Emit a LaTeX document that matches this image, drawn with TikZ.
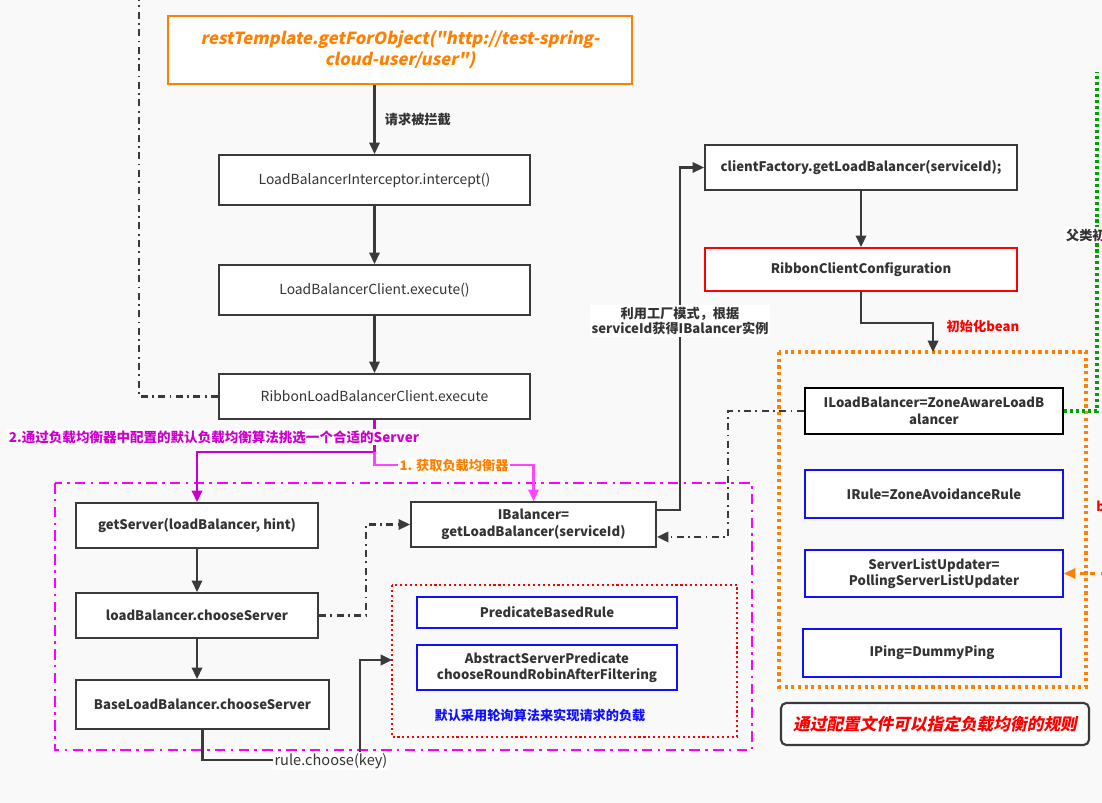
\documentclass[tikz,border=0pt]{standalone}
\usepackage{fontspec}
\setmainfont{Noto Sans CJK SC}
\newfontfamily\slantfont{Noto Sans CJK SC}[FakeSlant=0.2]
\usetikzlibrary{arrows.meta}
\definecolor{bg}{HTML}{F9F9F9}
\definecolor{boxgray}{HTML}{3A3A3A}
\definecolor{txtgray}{HTML}{333333}
\definecolor{orng}{HTML}{FF8000}
\definecolor{mag}{HTML}{FF00FF}
\definecolor{magdark}{HTML}{CC00CC}
\definecolor{pinkl}{HTML}{FF44FF}
\definecolor{blu}{HTML}{1010FF}
\definecolor{rd}{HTML}{FF0000}
\definecolor{grn}{HTML}{00A000}

\begin{document}
\begin{tikzpicture}[x=0.02cm,y=-0.02cm,
	box/.style={draw=boxgray, fill=white, line width=1.2pt, inner sep=0pt, text=txtgray, align=center, font=\fontsize{7.5}{9.5}\selectfont\bfseries},
	plainbox/.style={box, font=\fontsize{7.9}{9.5}\selectfont},
	bluebox/.style={box, draw=blu},
	arr/.style={draw=boxgray, line width=1.2pt, -{Triangle[length=6.5pt,width=6pt]}},
	dashdot/.style={draw=boxgray, line width=1.2pt, dash pattern=on 4pt off 2.5pt on 1pt off 2.5pt},
	lbl/.style={fill=white, inner sep=1pt, align=center, text=txtgray, font=\fontsize{7.5}{9}\selectfont\bfseries}]
	% Parameters
	\def\px{0.02cm}
	
	%background
	\fill[bg] (0,0) rectangle (1102,803);
	\useasboundingbox (0,0) rectangle (1102,803);
	
	%frames
	\draw[mag, line width=1.2pt, dash pattern=on 6pt off 3pt on 1.5pt off 3pt] (55,483) rectangle (752,750);
	\draw[rd, line width=1.1pt, dash pattern=on 1.2pt off 1.6pt] (392,585) rectangle (737,737);
	\draw[orng, line width=1.8pt, dash pattern=on 1.8pt off 2pt] (779,352) rectangle (1086,687);
	\coordinate (rulein) at (392,660);
	\coordinate (cfgtop) at (933,352);
	
	%boxes
	\node[box, draw=orng, line width=1.5pt, text=orng, font=\fontsize{9.5}{12}\selectfont\slantfont\bfseries, minimum width=464*\px, minimum height=68*\px] (rest) at (400,50) {restTemplate.getForObject("http://test-spring-\\cloud-user/user")};
	\node[plainbox, minimum width=311*\px, minimum height=50*\px] (lbi) at (374.5,180) {LoadBalancerInterceptor.intercept()};
	\node[plainbox, minimum width=311*\px, minimum height=50*\px] (lbc) at (374.5,290) {LoadBalancerClient.execute()};
	\node[plainbox, minimum width=311*\px, minimum height=45*\px] (rlbc) at (374.5,396.5) {RibbonLoadBalancerClient.execute};
	\node[box, minimum width=242*\px, minimum height=45*\px] (gs) at (197,525.5) {getServer(loadBalancer, hint)};
	\node[box, minimum width=242*\px, minimum height=45*\px] (lbcs) at (197,615.5) {loadBalancer.chooseServer};
	\node[box, minimum width=253*\px, minimum height=49*\px] (blbcs) at (202.5,704.5) {BaseLoadBalancer.chooseServer};
	\node[box, minimum width=245*\px, minimum height=45*\px] (ib) at (533.5,524.5) {IBalancer=\\getLoadBalancer(serviceId)};
	\node[box, minimum width=312*\px, minimum height=45*\px] (cf) at (861,167.5) {clientFactory.getLoadBalancer(serviceId);};
	\node[box, draw=rd, minimum width=312*\px, minimum height=43*\px] (rcc) at (861,269.5) {RibbonClientConfiguration};
	\node[box, draw=black, line width=1.5pt, minimum width=258*\px, minimum height=46*\px] (ilb) at (934,411) {ILoadBalancer=ZoneAwareLoadB\\alancer};
	\node[bluebox, minimum width=258*\px, minimum height=48*\px] (irule) at (934,494) {IRule=ZoneAvoidanceRule};
	\node[bluebox, minimum width=258*\px, minimum height=47*\px] (slu) at (934,573.5) {ServerListUpdater=\\PollingServerListUpdater};
	\node[bluebox, minimum width=258*\px, minimum height=48*\px] (iping) at (932,653) {IPing=DummyPing};
	\node[box, rounded corners=3pt, text=rd, font=\fontsize{9.5}{12}\selectfont\slantfont\bfseries, minimum width=308*\px, minimum height=42*\px] (note) at (935,724) {通过配置文件可以指定负载均衡的规则};
	\node[bluebox, minimum width=260*\px, minimum height=31*\px] (pbr) at (547,612.5) {PredicateBasedRule};
	\node[bluebox, minimum width=260*\px, minimum height=45*\px] (asp) at (547,667.5) {AbstractServerPredicate\\chooseRoundRobinAfterFiltering};
	\node[text=blu, font=\fontsize{7.5}{9}\selectfont\bfseries] (deflt) at (540,715) {默认采用轮询算法来实现请求的负载};
	
	%left column
	\draw[arr] (rest.south -| lbi.north) -- node[right, xshift=2pt, text=txtgray, font=\fontsize{7.5}{9}\selectfont\bfseries] {请求被拦截} (lbi.north);
	\draw[arr] (lbi.south) -- (lbc.north);
	\draw[arr] (lbc.south) -- (rlbc.north);
	\coordinate (ltop) at (139,-5);
	\draw[dashdot] (rlbc.west) -| (ltop);
	
	%split to servers
	\coordinate (split) at (374.5,452);
	\draw[magdark, line width=1.2pt, -{Triangle[length=6.5pt,width=6pt]}] (rlbc.south) -- (split) -| (gs.north);
	\draw[pinkl, line width=1.2pt, -{Triangle[length=6.5pt,width=6pt]}] (split) -- ++(0,13) -| (ib.north);
	\node[lbl, text=magdark, font=\fontsize{7.7}{9}\selectfont\bfseries] (lbltwo) at (214,437) {2.通过负载均衡器中配置的默认负载均衡算法挑选一个合适的Server};
	\node[lbl, text=orng] (lblone) at (454,466) {1. 获取负载均衡器};
	
	%inner column
	\draw[arr] (gs.south) -- (lbcs.north);
	\draw[arr] (lbcs.south) -- (lbcs.south |- blbcs.north);
	\draw[dashdot, -{Triangle[length=6.5pt,width=6pt]}] (lbcs.east) -- (366,615.5) |- (ib.west);
	\draw[arr] (blbcs.south) |- (360,760) |- (rulein);
	\node[lbl, font=\fontsize{8.3}{9}\selectfont] (rulelbl) at (331,761) {rule.choose(key)};
	
	%factory
	\draw[arr] ([yshift=8.2pt]ib.east) -- ++(23,0) |- (cf.west);
	\node[lbl] (factlbl) at (680,321) {利用工厂模式，根据\\serviceId获得IBalancer实例};
	\draw[arr] (cf.south) -- (rcc.north);
	\draw[arr] (rcc.south) -- ++(0,31) -| (cfgtop);
	\node[text=rd, font=\fontsize{7.5}{9}\selectfont\bfseries] (initlbl) at (983,326) {初始化bean};
	\draw[dashdot, -{Triangle[length=6.5pt,width=6pt]}] (ilb.west) -- (728,411) |- ([yshift=-7.1pt]ib.east);
	
	%right edge
	\coordinate (gtop) at (1097,72);
	\draw[grn, line width=1.8pt, dash pattern=on 1.8pt off 1.6pt] (ilb.east) -| (gtop);
	\node[lbl, anchor=west] (parentlbl) at (1064,235) {父类初};
	\node[anchor=west, inner sep=0pt, text=rd, font=\fontsize{7.5}{9}\selectfont\bfseries] (blbl) at (1096,506) {b};
	\coordinate (sluin) at (1106,573.5);
	\draw[orng, line width=1.2pt, dashed, -{Triangle[length=6.5pt,width=6pt]}] (sluin) -- (slu.east);
\end{tikzpicture}
\end{document}
